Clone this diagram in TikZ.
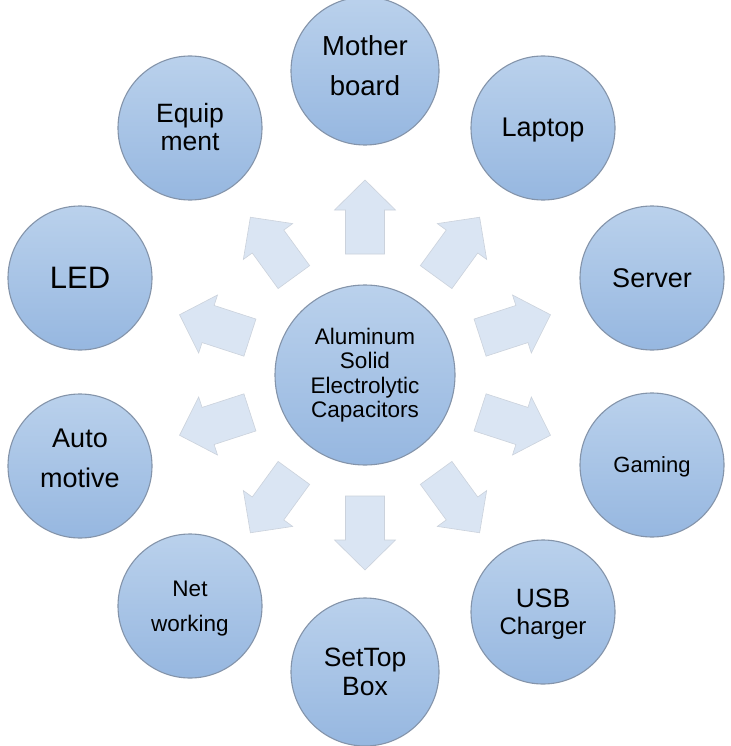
\documentclass[tikz,border=0pt]{standalone}
\usepackage{fontspec}
\setmainfont{Liberation Sans}
\definecolor{ctop}{HTML}{BAD1EC}
\definecolor{cbot}{HTML}{96B7E0}
\definecolor{cedge}{HTML}{8494AA}
\definecolor{afill}{HTML}{DAE5F3}
\definecolor{aedge}{HTML}{CBD2DC}
\tikzset{
  bubble/.style={circle, draw=cedge, line width=1.1pt, top color=ctop, bottom color=cbot,
    inner sep=0pt},
  bigb/.style={bubble, minimum size=148pt},
  smallb/.style={bubble, minimum size=144pt},
  lbl/.style={align=center, text=black, inner sep=0pt},
  blockarrow/.style={fill=afill, draw=aedge, line width=0.6pt, line join=miter},
  f/.style n args={2}{font=\fontsize{#1}{#2}\selectfont}
}
\newcommand{\blockarr}[1]{%
  \path[blockarrow, shift={(365,375)}, rotate=#1]
    (121,-19.5) -- (165,-19.5) -- (165,-30.5) -- (195,0) -- (165,30.5) -- (165,19.5) -- (121,19.5) -- cycle;}
\begin{document}
\begin{tikzpicture}[x=1pt,y=-1pt]
\useasboundingbox (0,0) rectangle (730,746);
\fill[white] (0,0) rectangle (730,746);
% block arrows
\foreach \a in {90,54,18,-18,-54,-90,-126,-162,162,126} {\blockarr{\a}}
% centre
\node[bubble, minimum size=180pt] (core) at (365,375) {};
% outer circles
\node[bigb] (mother) at (365,71) {};
\node[smallb] (laptop) at (543,128) {};
\node[smallb] (server) at (652,278) {};
\node[smallb] (gaming) at (652,465) {};
\node[smallb] (usb) at (543,612) {};
\node[bigb] (settop) at (365,672) {};
\node[smallb] (net) at (190,606) {};
\node[smallb] (auto) at (80,466) {};
\node[smallb] (led) at (80,278) {};
\node[smallb] (equip) at (190,128) {};
% labels
\node[lbl, f={22.5}{24.5}] (tcore) at (core.center) {Aluminum\\Solid\\Electrolytic\\Capacitors};
\node[lbl, f={27.5}{40}] (tmother) at ([yshift=5pt]mother.center) {Mother\\board};
\node[lbl, f={27}{30}] (tlaptop) at ([yshift=-2pt]laptop.center) {Laptop};
\node[lbl, f={27}{30}] (tserver) at (server.center) {Server};
\node[lbl, f={22}{26}] (tgaming) at ([yshift=-2pt]gaming.center) {Gaming};
\node[lbl, f={26.5}{27}] (tusb) at ([yshift=-2pt]usb.center) {USB\\{\fontsize{24}{27}\selectfont Charger}};
\node[lbl, f={26.5}{29}] (tsettop) at (settop.center) {SetTop\\Box};
\node[lbl, f={22.5}{35}] (tnet) at ([yshift=-3pt]net.center) {Net\\working};
\node[lbl, f={27}{40}] (tauto) at ([yshift=8pt]auto.center) {Auto\\motive};
\node[lbl, f={31}{34}] (tled) at (led.center) {LED};
\node[lbl, f={26.5}{28}] (tequip) at ([yshift=1pt]equip.center) {Equip\\ment};
\end{tikzpicture}
\end{document}
